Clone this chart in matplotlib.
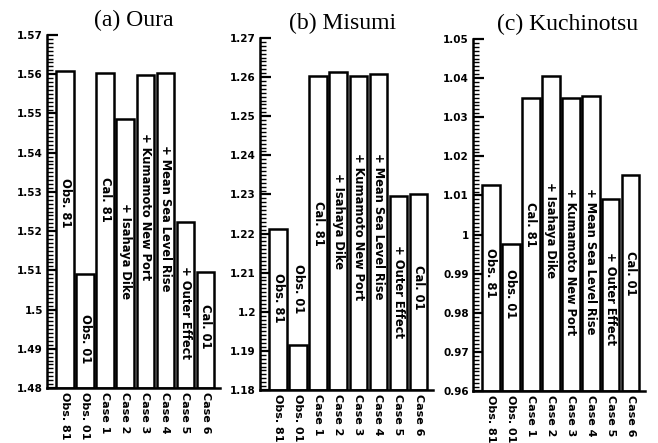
import numpy as np
import matplotlib
matplotlib.use("Agg")
import matplotlib.pyplot as plt
from matplotlib.ticker import MultipleLocator, FuncFormatter
import matplotlib.transforms as mtransforms

# ---- data ----
categories = ["Obs. 81", "Obs. 01", "Case 1", "Case 2", "Case 3", "Case 4", "Case 5", "Case 6"]
bar_labels = ["Obs. 81", "Obs. 01", "Cal. 81", "+ Isahaya Dike", "+ Kumamoto New Port",
              "+ Mean Sea Level Rise", "+ Outer Effect", "Cal. 01"]
titles = ["(a) Oura", "(b) Misumi", "(c) Kuchinotsu"]
oura = [1.5608, 1.5090, 1.5603, 1.5487, 1.5599, 1.5604, 1.5223, 1.5097]
misumi = [1.2211, 1.1916, 1.2602, 1.2614, 1.2603, 1.2609, 1.2296, 1.2302]
kuchinotsu = [1.0127, 0.9977, 1.0349, 1.0406, 1.0348, 1.0354, 1.0092, 1.0151]
y_ranges = [(1.48, 1.57), (1.18, 1.27), (0.96, 1.05)]

# ---- layout (axes fraction positions of the in-bar labels) ----
label_pos = [
    [0.524, 0.139, 0.533, 0.388, 0.513, 0.480, 0.214, 0.174],
    [0.263, 0.287, 0.472, 0.481, 0.463, 0.466, 0.279, 0.291],
    [0.337, 0.276, 0.472, 0.457, 0.368, 0.368, 0.264, 0.334],
]
axes_rects = [
    [47 / 658, 55 / 443, 173 / 658, 353 / 443],
    [260 / 658, 53 / 443, 173 / 658, 352 / 443],
    [473 / 658, 52 / 443, 172 / 658, 352 / 443],
]
title_x = [0.50, 0.48, 0.55]

plt.rcParams['font.family'] = ['DejaVu Sans']
fig = plt.figure(figsize=(6.58, 4.43), dpi=100)

series = [oura, misumi, kuchinotsu]
x = np.arange(len(categories))

def fmt(v, pos):
    s = f"{v:.2f}".rstrip('0').rstrip('.')
    return s

for k in range(3):
    ax = fig.add_axes(axes_rects[k])
    lo, hi = y_ranges[k]
    vals = np.array(series[k])
    ax.bar(x, vals - lo, bottom=lo, width=0.88, color='white',
           edgecolor='black', linewidth=1.8, zorder=2)
    ax.set_xlim(-0.9, 7.72)
    ax.set_ylim(lo, hi)
    for s in ['top', 'right']:
        ax.spines[s].set_visible(False)
    for s in ['left', 'bottom']:
        ax.spines[s].set_linewidth(1.8)
        ax.spines[s].set_zorder(3)
    ax.yaxis.set_major_locator(MultipleLocator(0.01))
    ax.yaxis.set_minor_locator(MultipleLocator(0.001))
    ax.yaxis.set_major_formatter(FuncFormatter(fmt))
    ax.tick_params(axis='y', which='major', direction='in', length=8, width=1.6,
                   pad=3, labelsize=7.5)
    ax.tick_params(axis='y', which='minor', direction='in', length=4, width=1.0)
    for lab in ax.get_yticklabels():
        lab.set_fontweight('bold')
    ax.set_xticks(x)
    ax.set_xticklabels(categories, rotation=-90, fontsize=8, fontweight='bold')
    ax.tick_params(axis='x', length=0, pad=3)
    trans = mtransforms.blended_transform_factory(ax.transData, ax.transAxes)
    for i, lab in enumerate(bar_labels):
        ax.text(x[i], label_pos[k][i], lab, transform=trans, rotation=-90,
                ha='center', va='center', fontsize=8.3, fontweight='bold', zorder=4)
    ax.text(title_x[k], 1.01, titles[k], transform=ax.transAxes, ha='center',
            va='bottom', fontsize=17, family='Liberation Serif')

fig.savefig("out.png", dpi=100, facecolor='white')
